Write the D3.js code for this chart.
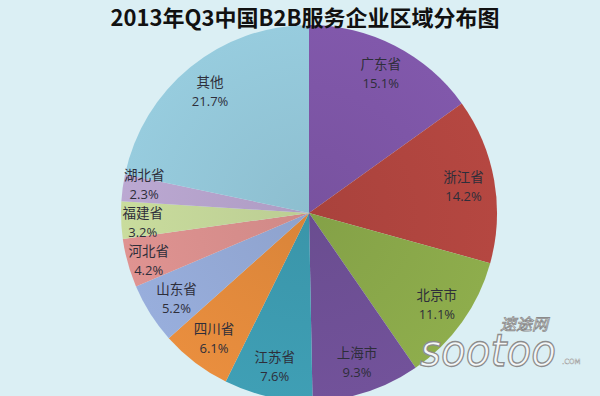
<!DOCTYPE html>
<html><head><meta charset="utf-8">
<script src="https://cdn.jsdelivr.net/npm/d3@7"></script>
<style>
html,body{margin:0;padding:0;background:#dbeff4;}
svg{display:block;}
</style></head>
<body>
<svg id="chart" width="600" height="396"></svg>
<script>
const title = "2013年Q3中国B2B服务企业区域分布图";
const categories = ["广东省","浙江省","北京市","上海市","江苏省","四川省","山东省","河北省","福建省","湖北省","其他"];
const values = [15.1,14.2,11.1,9.3,7.6,6.1,5.2,4.2,3.2,2.3,21.7];
const colors = ["#7d56a6","#b0453f","#8aa84a","#6f5096","#3d9bb0","#e28a3c","#94a9d6","#d98f8d","#c3d699","#b6a3cc","#93c6d8"];

const svg = d3.select("#chart");
const W = 600, H = 396;
svg.append("rect").attr("width",W).attr("height",H).attr("fill","#dbeff4");

const cx = 309, cy = 213, R = 188;
const g = svg.append("g").attr("transform",`translate(${cx},${cy})`);

const pie = d3.pie().sort(null).value(d=>d.v);
const data = categories.map((c,i)=>({c, v:values[i], col:colors[i]}));
const arcs = pie(data);
const arc = d3.arc().innerRadius(0).outerRadius(R);

const defs = svg.append("defs");
arcs.forEach((a,i)=>{
  const gr = defs.append("radialGradient").attr("id","g"+i)
    .attr("gradientUnits","userSpaceOnUse").attr("cx",0).attr("cy",0).attr("r",R);
  gr.append("stop").attr("offset","0%").attr("stop-color",d3.color(a.data.col).darker(0.12));
  gr.append("stop").attr("offset","100%").attr("stop-color",d3.color(a.data.col).brighter(0.08));
});

g.selectAll("path.slice").data(arcs).join("path")
  .attr("class","slice")
  .attr("d",arc)
  .attr("fill",(d,i)=>`url(#g${i})`)
  .attr("stroke","none");

// label positions: centroid, then relax small left-side labels apart vertically
const pos = arcs.map(d=>{
  const f = d.data.v < 5 ? 0.885 : 0.835;
  const p = d3.arc().innerRadius(R*f).outerRadius(R*f).centroid(d);
  return {x:p[0], y:p[1], small:d.data.v < 5.5 && p[0] < 0};
});
const grp = pos.filter(p=>p.small).sort((a,b)=>a.y-b.y);
const minGap = 38;
for(let it=0; it<60; it++){
  for(let k=1;k<grp.length;k++){
    const gap = grp[k].y - grp[k-1].y;
    if(gap < minGap){
      const s = (minGap-gap)/2;
      grp[k-1].y -= s; grp[k].y += s;
    }
  }
}

const lbl = g.selectAll("g.lbl").data(arcs).join("g").attr("class","lbl")
  .attr("transform",(d,i)=>`translate(${pos[i].x},${pos[i].y})`);
lbl.append("text").attr("text-anchor","middle").attr("y",-4)
  .attr("font-family","'Noto Sans CJK SC','Noto Sans',sans-serif").attr("font-size",13.5)
  .attr("fill","#2e2e3a").text(d=>d.data.c);
lbl.append("text").attr("text-anchor","middle").attr("y",15)
  .attr("font-family","'Open Sans','Noto Sans',sans-serif").attr("font-size",13)
  .attr("fill","#2e2e3a").text(d=>d.data.v.toFixed(1)+"%");

svg.append("text").attr("x",305).attr("y",26).attr("text-anchor","middle")
  .attr("font-family","'Noto Sans CJK SC',sans-serif").attr("font-weight","bold")
  .attr("font-size",22).attr("fill","#111").text(title);

// watermark
const wm = svg.append("g");
wm.append("text").attr("x",500).attr("y",330).attr("text-anchor","start")
  .attr("font-family","'Noto Sans CJK SC',sans-serif").attr("font-size",16).attr("font-style","italic")
  .attr("fill","#ffffff").attr("stroke","#8a8a8a").attr("stroke-width",0.8).text("速途网");
wm.append("text").attr("x",420).attr("y",366)
  .attr("font-family","'DejaVu Sans',sans-serif").attr("font-size",44).attr("font-style","italic")
  .attr("textLength",136).attr("lengthAdjust","spacingAndGlyphs")
  .attr("fill","#f4f7f8").attr("stroke","#8c8c8c").attr("stroke-width",1.3).text("sootoo");
wm.append("text").attr("x",562).attr("y",364)
  .attr("font-family","'DejaVu Sans',sans-serif").attr("font-size",7)
  .attr("fill","#ffffff").attr("stroke","#999").attr("stroke-width",0.4).text(".COM");
</script>
</body></html>
